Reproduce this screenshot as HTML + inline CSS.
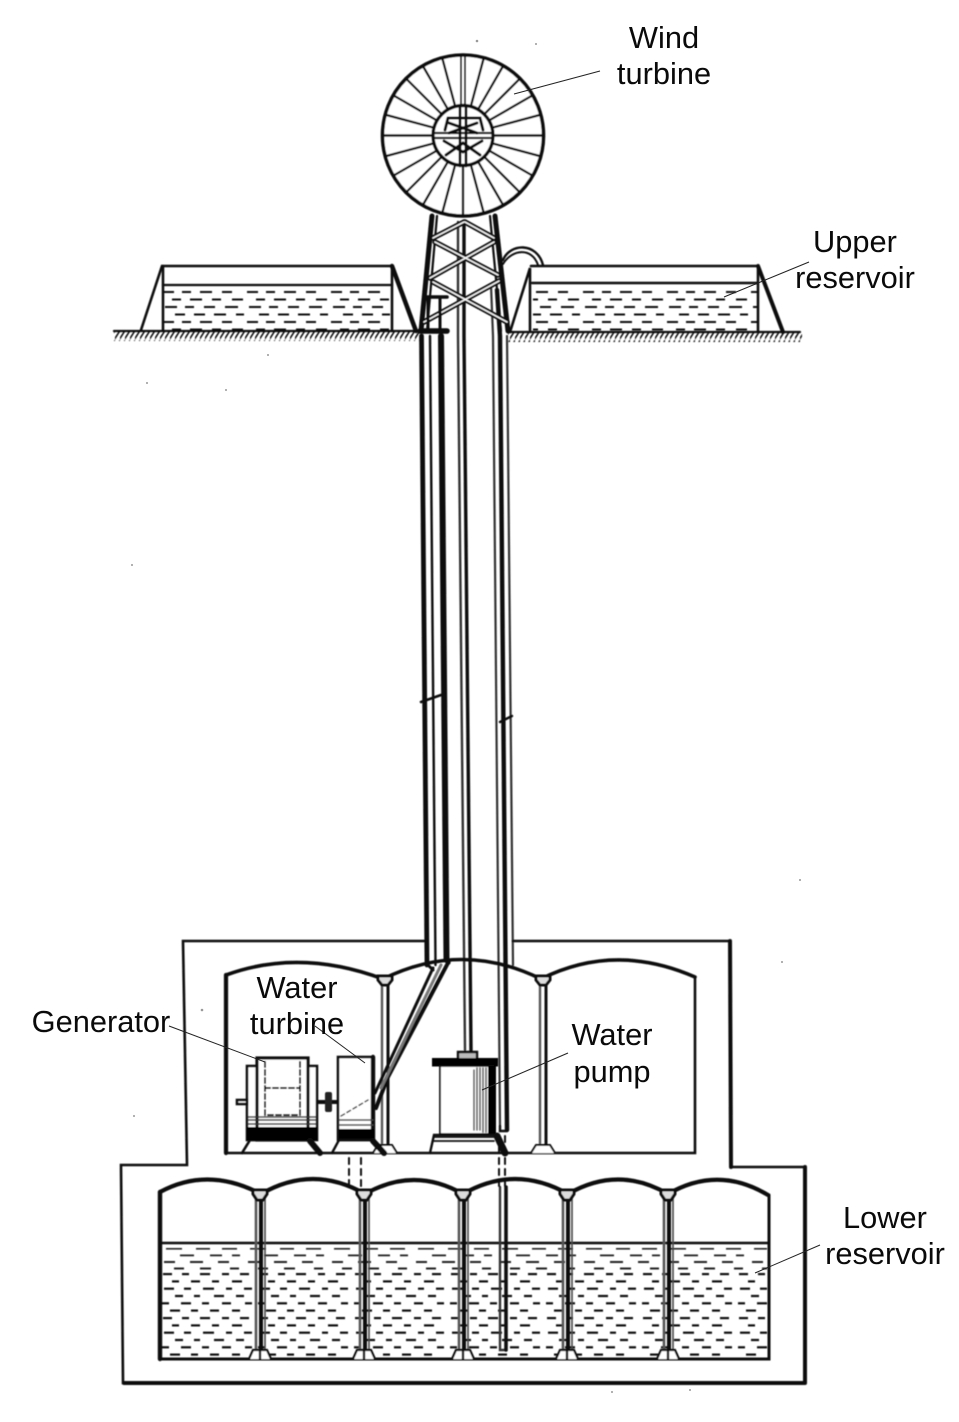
<!DOCTYPE html>
<html lang="en"><head><meta charset="utf-8"><title>Wind pumped storage diagram</title>
<style>html,body{margin:0;padding:0;background:#fff}svg{display:block}text{font-family:"Liberation Sans",Arial,sans-serif;font-size:30.8px;fill:#0a0a0a;text-anchor:middle}</style></head>
<body>
<svg xmlns="http://www.w3.org/2000/svg" width="959" height="1422" viewBox="0 0 959 1422">
<defs>
<filter id="b" x="0" y="0" width="959" height="1422" filterUnits="userSpaceOnUse" primitiveUnits="userSpaceOnUse"><feGaussianBlur stdDeviation="0.4"/></filter>
<pattern id="hatch" width="5" height="10" patternUnits="userSpaceOnUse"><path d="M6 -1L-1 10" stroke="#111" stroke-width="1.6"/></pattern>
<pattern id="wu" x="162" y="290" width="84" height="30" patternUnits="userSpaceOnUse"><g fill="#111">
<rect x="1" y="1" width="11" height="2"/><rect x="20" y="1" width="9" height="2"/><rect x="38" y="1" width="12" height="2"/><rect x="60" y="1" width="10" height="2"/>
<rect x="10" y="8.5" width="9" height="2"/><rect x="28" y="8.5" width="12" height="2"/><rect x="50" y="8.5" width="9" height="2"/><rect x="70" y="8.5" width="11" height="2"/>
<rect x="3" y="16" width="12" height="2"/><rect x="23" y="16" width="9" height="2"/><rect x="42" y="16" width="11" height="2"/><rect x="63" y="16" width="13" height="2"/>
<rect x="13" y="23.5" width="10" height="2"/><rect x="32" y="23.5" width="11" height="2"/><rect x="52" y="23.5" width="12" height="2"/><rect x="74" y="23.5" width="8" height="2"/></g></pattern>
<pattern id="wl" x="160" y="1272" width="96" height="44" patternUnits="userSpaceOnUse"><g fill="#111">
<rect x="3" y="1" width="9" height="2.2"/><rect x="22" y="1" width="7" height="2.2"/><rect x="40" y="1" width="10" height="2.2"/><rect x="62" y="1" width="7" height="2.2"/><rect x="80" y="1" width="9" height="2.2"/>
<rect x="12" y="8.3" width="7" height="2.2"/><rect x="31" y="8.3" width="9" height="2.2"/><rect x="52" y="8.3" width="7" height="2.2"/><rect x="72" y="8.3" width="10" height="2.2"/>
<rect x="4" y="15.6" width="10" height="2.2"/><rect x="24" y="15.6" width="7" height="2.2"/><rect x="43" y="15.6" width="11" height="2.2"/><rect x="66" y="15.6" width="6" height="2.2"/><rect x="84" y="15.6" width="8" height="2.2"/>
<rect x="15" y="22.9" width="8" height="2.2"/><rect x="34" y="22.9" width="6" height="2.2"/><rect x="54" y="22.9" width="10" height="2.2"/><rect x="76" y="22.9" width="8" height="2.2"/>
<rect x="2" y="30.2" width="7" height="2.2"/><rect x="21" y="30.2" width="10" height="2.2"/><rect x="42" y="30.2" width="7" height="2.2"/><rect x="62" y="30.2" width="9" height="2.2"/><rect x="85" y="30.2" width="7" height="2.2"/>
<rect x="10" y="37.5" width="10" height="2.2"/><rect x="31" y="37.5" width="7" height="2.2"/><rect x="50" y="37.5" width="9" height="2.2"/><rect x="72" y="37.5" width="8" height="2.2"/></g></pattern>
<pattern id="wt" x="160" y="1247" width="84" height="26" patternUnits="userSpaceOnUse"><g fill="#222">
<rect x="6" y="1" width="16" height="1.6"/><rect x="36" y="1" width="14" height="1.6"/><rect x="62" y="1" width="15" height="1.6"/>
<rect x="20" y="7.5" width="14" height="1.8"/><rect x="50" y="7.5" width="12" height="1.8"/><rect x="72" y="7.5" width="8" height="1.8"/>
<rect x="4" y="14" width="11" height="2"/><rect x="30" y="14" width="13" height="2"/><rect x="58" y="14" width="11" height="2"/>
<rect x="14" y="20.5" width="10" height="2"/><rect x="40" y="20.5" width="11" height="2"/><rect x="70" y="20.5" width="9" height="2"/></g></pattern>
<line id="sp" x1="463" y1="105" x2="463" y2="55" stroke="#111" stroke-width="2.4"/>
<g id="lc" fill="none" stroke="#0d0d0d">
<line x1="-4" y1="1198" x2="-4" y2="1352" stroke="#555" stroke-width="2.6"/><line x1="1" y1="1196" x2="1" y2="1358" stroke-width="4"/><line x1="5" y1="1198" x2="5" y2="1352" stroke-width="1.6" stroke="#444"/>
<path d="M-7 1190h14v4l-4 6h-6l-4-6z" fill="#ddd" stroke-width="3"/>
<path d="M-11 1359l4-9h14l4 9" fill="#fff" stroke-width="2.2"/><line x1="0" y1="1350" x2="0" y2="1359" stroke-width="2.4"/></g>
<g id="uc" fill="none" stroke="#0d0d0d">
<line x1="-3" y1="985" x2="-3" y2="1146" stroke="#555" stroke-width="2.4"/><line x1="3" y1="985" x2="3" y2="1146" stroke-width="3"/>
<path d="M-7 976h14v4l-4 5h-6l-4-5z" fill="#ddd" stroke-width="3"/>
<path d="M-12 1153l5-8h14l5 8" fill="#fff" stroke-width="2"/></g>
</defs>
<rect width="959" height="1422" fill="#fff"/>
<g filter="url(#b)" fill="none" stroke="#0d0d0d" stroke-linecap="round">
<!-- upper reservoirs -->
<rect x="114" y="332" width="306" height="9" fill="url(#hatch)" stroke="none"/>
<rect x="508" y="333" width="294" height="9" fill="url(#hatch)" stroke="none"/>
<rect x="164" y="290" width="226" height="40" fill="url(#wu)" stroke="none"/>
<rect x="533" y="289" width="224" height="42" fill="url(#wu)" stroke="none"/>
<path d="M114 331H420M508 332H800" stroke-width="2.2"/>
<path d="M141 330L162 266H392V331" stroke-width="2.6"/><path d="M163 266V330" stroke-width="2.6"/>
<path d="M163 285H392" stroke-width="2.2"/>
<path d="M392 266L416 331" stroke-width="4.5"/>
<path d="M510 332L530 268V330M531 266H758V331" stroke-width="2.6"/>
<path d="M532 283H758" stroke-width="2.4"/>
<path d="M758 266L783 332" stroke-width="4"/>
<path d="M503 260C510 243 537 242 543 265" stroke-width="2.4"/>
<path d="M503 264C512 249 532 247 538 265" stroke-width="2"/>
<!-- shaft -->
<path d="M421.5 336L427 965" stroke-width="4.8"/>
<path d="M430 336L435.5 965" stroke-width="2.4"/>
<path d="M441 336L446.5 960" stroke-width="6"/>
<path d="M458 222L458 336L465 1050" stroke="#333" stroke-width="2.4"/>
<path d="M464 222L464 336L471 1050" stroke-width="3.4"/>
<path d="M491 285L493 336L500 1126" stroke="#333" stroke-width="2.2"/>
<path d="M497 290L500 336L507 1130" stroke-width="4.4"/>
<path d="M507 336L513 965" stroke="#333" stroke-width="2.2"/>
<path d="M500 1126V1131H507" stroke-width="2.4"/>
<path d="M421 702L441 695" stroke-width="2.6"/><path d="M500 722L512 716" stroke-width="2.4"/>
<!-- tower -->
<path d="M432 216L421 331" stroke-width="5"/>
<path d="M437 216L427 331" stroke-width="2.2"/>
<path d="M495 216L508 331" stroke-width="5"/>
<path d="M490 216L501 331" stroke-width="2.2"/>
<g stroke-width="5.4"><path d="M433 238L464 222M435 242L498 275M430 278L494 242M465 222L494 238M433 282L507 322M424 322L499 281"/></g>
<g stroke="#fff" stroke-width="1.4"><path d="M433 238L464 222M435 242L498 275M430 278L494 242M465 222L494 238M433 282L507 322M424 322L499 281"/></g>
<path d="M427 297H447" stroke-width="3.6"/><path d="M428 297V331M440 298V331" stroke-width="3"/>
<path d="M420 331H447" stroke-width="5.5"/>
<!-- wheel -->
<circle cx="463" cy="135.5" r="80.5" fill="#fff" stroke-width="3.6"/>
<use href="#sp" transform="rotate(15 463 135.5)"/><use href="#sp" transform="rotate(30 463 135.5)"/><use href="#sp" transform="rotate(45 463 135.5)"/><use href="#sp" transform="rotate(60 463 135.5)"/><use href="#sp" transform="rotate(75 463 135.5)"/><use href="#sp" transform="rotate(90 463 135.5)"/><use href="#sp" transform="rotate(105 463 135.5)"/><use href="#sp" transform="rotate(120 463 135.5)"/><use href="#sp" transform="rotate(135 463 135.5)"/><use href="#sp" transform="rotate(150 463 135.5)"/><use href="#sp" transform="rotate(165 463 135.5)"/><use href="#sp" transform="rotate(180 463 135.5)"/><use href="#sp" transform="rotate(195 463 135.5)"/><use href="#sp" transform="rotate(210 463 135.5)"/><use href="#sp" transform="rotate(225 463 135.5)"/><use href="#sp" transform="rotate(240 463 135.5)"/><use href="#sp" transform="rotate(255 463 135.5)"/><use href="#sp" transform="rotate(270 463 135.5)"/><use href="#sp" transform="rotate(285 463 135.5)"/><use href="#sp" transform="rotate(300 463 135.5)"/><use href="#sp" transform="rotate(315 463 135.5)"/><use href="#sp" transform="rotate(330 463 135.5)"/><use href="#sp" transform="rotate(345 463 135.5)"/>
<path d="M461 55V105M465 55V105" stroke-width="2"/>
<circle cx="463" cy="135.5" r="30" fill="#fff" stroke-width="3.4"/>
<path d="M433 133H493M433 138H493" stroke-width="2.2"/>
<path d="M460 106V166M466 106V166" stroke-width="2.8"/>
<path d="M448 118H480L483 130M448 118L445 130M449 123L477 133M477 123L449 133M444 141L463 152L482 141M446 155L463 143L480 155" stroke-width="3"/>
<!-- buildings -->
<path d="M425 941H183L187 1165H121L123 1383H805V1167H731L730 941H513" stroke-width="2.6"/>
<path d="M730 941L731 1167M124 1383H805M805 1167V1383" stroke-width="4"/>
<!-- upper room -->
<path d="M226 975V1153H695V977" stroke-width="2.6"/>
<path d="M226 975V1153" stroke-width="4.2"/>
<path d="M226 975Q300 948 383 979Q462 940 541 979Q615 942 695 977" stroke-width="3.6"/>
<use href="#uc" x="385"/><use href="#uc" x="543"/>
<!-- diagonal pipe -->
<path d="M433 968L375 1093" stroke-width="3"/>
<path d="M449 961L388 1077L376 1108" stroke-width="4"/>
<path d="M441 965L381 1088" stroke="#777" stroke-width="3"/>
<path d="M427 964L433 970M446 958L449 963" stroke-width="3"/>
<!-- generator -->
<g stroke-width="2.6">
<path d="M242 1153L250 1140H310L320 1153"/>
<rect x="247" y="1066" width="70" height="74" fill="#fff"/>
<rect x="257" y="1058" width="51" height="82" fill="#fff" stroke-width="3.2"/>
<rect x="237" y="1100" width="10" height="4" fill="#fff"/>
<path d="M318 1102H338" stroke-width="4"/><rect x="325" y="1092" width="7" height="20" rx="2" fill="#222" stroke="none"/>
<path d="M265 1062V1115H300V1062M265 1088H300" stroke-width="2" stroke-dasharray="5 3"/>
</g>
<rect x="247" y="1127" width="70" height="13" fill="#050505" stroke="none"/>
<path d="M248 1117H316M248 1120H316M248 1124H316" stroke="#333" stroke-width="1.5"/>
<path d="M310 1141L320 1153" stroke-width="6"/>
<!-- water turbine -->
<rect x="338" y="1057" width="35" height="83" fill="#fff" stroke-width="2.6"/>
<path d="M373 1057V1140" stroke-width="4.4"/>
<rect x="339" y="1129" width="35" height="11" fill="#050505" stroke="none"/>
<path d="M339 1120H373M339 1125H373" stroke="#444" stroke-width="1.4"/>
<path d="M341 1116L368 1100" stroke="#444" stroke-width="1.5" stroke-dasharray="4 3"/>
<path d="M332 1153L339 1140H373L386 1153" stroke-width="2.4"/><path d="M373 1141L384 1153" stroke-width="6"/>
<!-- pump -->
<path d="M458 1058V1052H477V1058" fill="#bbb" stroke-width="2.4"/>
<rect x="432" y="1058" width="66" height="8.5" fill="#050505" stroke="none"/>
<rect x="440" y="1066" width="53" height="68" fill="#fff" stroke-width="1.8"/>
<path d="M474 1070V1130M477 1068V1130M480 1068V1130M483 1068V1132M486 1068V1132" stroke="#555" stroke-width="1.6"/>
<rect x="488" y="1066" width="8" height="68" fill="#050505" stroke="none"/>
<path d="M430 1153L434 1135H496L506 1153" stroke-width="2.4"/>
<path d="M434 1137H494M434 1141H494" stroke-width="1.8"/>
<path d="M497 1136L505 1153" stroke-width="7"/>
<!-- lower reservoir -->
<rect x="162" y="1272" width="605" height="86" fill="url(#wl)" stroke="none"/>
<rect x="162" y="1247" width="605" height="25" fill="url(#wt)" stroke="none"/>
<path d="M160 1243H768" stroke-width="2.4"/>
<path d="M160 1192V1359H769V1195" stroke-width="3"/>
<path d="M160 1192V1359" stroke-width="4.4"/>
<path d="M160 1192Q208 1166 261 1194Q313 1164 365 1194Q414 1166 463 1194Q515 1164 568 1194Q618 1165 668 1194Q718 1165 768 1195" stroke-width="4.2"/>
<use href="#lc" x="260"/><use href="#lc" x="364"/><use href="#lc" x="463"/><use href="#lc" x="567"/><use href="#lc" x="668"/>
<path d="M500 1187V1350H506" stroke="#333" stroke-width="2.4"/><path d="M506 1187V1350" stroke-width="3.6"/>
<path d="M349 1158V1186M361 1158V1186M499 1136V1186M505 1136V1186" stroke-width="2" stroke-dasharray="6 5"/>
</g>
<!-- leaders -->
<g stroke="#222" stroke-width="1" fill="none">
<path d="M600 71L514 94"/><path d="M809 262L724 297"/><path d="M568 1053L482 1090"/><path d="M315 1026L365 1063"/><path d="M169 1026L265 1062"/><path d="M820 1245L755 1273"/>
</g>
<g fill="#999"><circle cx="477" cy="41" r="1.3"/><circle cx="536" cy="44" r="1"/><circle cx="226" cy="390" r="1"/><circle cx="132" cy="565" r="1"/><circle cx="147" cy="383" r="1"/><circle cx="782" cy="962" r="1"/><circle cx="202" cy="1010" r="1.3"/><circle cx="134" cy="1116" r="1"/><circle cx="690" cy="1390" r="1"/><circle cx="612" cy="1392" r="1"/><circle cx="800" cy="880" r="1"/><circle cx="268" cy="355" r="1"/></g>
<text x="664" y="48">Wind</text><text x="664" y="84">turbine</text>
<text x="855" y="252">Upper</text><text x="855" y="288">reservoir</text>
<text x="297" y="998">Water</text><text x="297" y="1034">turbine</text>
<text x="101" y="1032">Generator</text>
<text x="612" y="1045">Water</text><text x="612" y="1082">pump</text>
<text x="885" y="1228">Lower</text><text x="885" y="1264">reservoir</text>
</svg>
</body></html>
